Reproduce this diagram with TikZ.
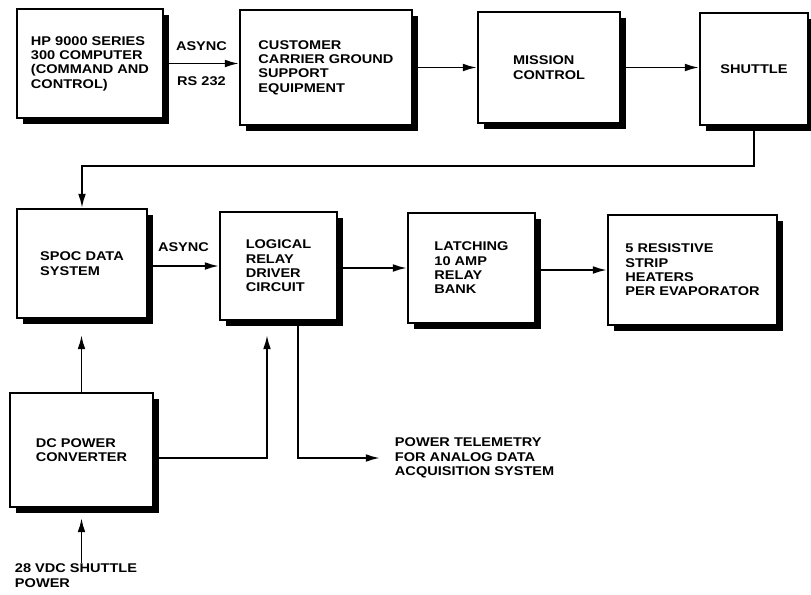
\documentclass[tikz,border=0pt]{standalone}
\usepackage{fontspec}
\setmainfont{Liberation Sans}[FakeStretch=1.15]
\usetikzlibrary{arrows.meta,shadows,calc}
\begin{document}
\begin{tikzpicture} [x=0.025cm,y=-0.025cm,line width=1.4pt,
  font=\fontsize{9}{10.2}\selectfont\bfseries,
  blk/.style 2 args={draw,fill=white,align=left,inner sep=0pt,
    minimum width=#1*0.025cm,minimum height=#2*0.025cm,
    drop shadow={shadow xshift=0.14cm,shadow yshift=-0.16cm,fill=black,opacity=1}},
  lbl/.style={align=left,inner sep=0pt},
  >={Latex[length=10pt,width=5.5pt]}]
\useasboundingbox (0,0) rectangle (811,594);
\node [blk={146}{109}] (a) at (90,63.5) {HP 9000 SERIES\\300 COMPUTER\\(COMMAND AND\\CONTROL)};
\node [blk={172}{115}] (b) at (326,67.5) {CUSTOMER\\CARRIER GROUND\\SUPPORT\\EQUIPMENT};
\node [blk={142}{111}] (c) at (549,67.5) {MISSION\\CONTROL};
\node [blk={108}{112}] (d) at (754,69) {SHUTTLE};
\node [blk={130}{109}] (e) at (82,263.5) {SPOC DATA\\SYSTEM};
\node [blk={117}{108}] (f) at (278.5,266) {LOGICAL\\RELAY\\DRIVER\\CIRCUIT};
\node [blk={127}{110}] (g) at (471.5,268) {LATCHING\\10 AMP\\RELAY\\BANK};
\node [blk={169}{110}] (h) at (692.5,270) {5 RESISTIVE\\STRIP\\HEATERS\\PER EVAPORATOR};
\node [blk={143}{114}] (i) at (81.5,450) {DC POWER\\CONVERTER};
\node [lbl,anchor=west,inner xsep=0.35cm] (t) at (380,458) {POWER TELEMETRY\\FOR ANALOG DATA\\ACQUISITION SYSTEM};
\node [lbl,anchor=north west] (v) at (14,563) {28 VDC SHUTTLE\\POWER};
\draw [->] (a.east) -- (a.east -| b.west) node [midway,above=5pt] {ASYNC} node [midway,below=5pt] {RS 232};
\draw [->] (b) -- (c);
\draw [->] (c.east) -- (c.east -| d.west);
\draw [->] (d.south) -- ++(0,40) -| (e.north);
\draw [->] (e.east |- f.west) -- (f.west) node [midway,above=6pt] {ASYNC};
\draw [->] (f.east |- g.west) -- (g.west);
\draw [->] (g.east |- h.west) -- (h.west);
\draw [->,shorten >=0.4cm] (i.north) -- (i.north |- e.south);
\draw [->,shorten >=0.35cm] ($(i.east)+(0,8)$) -| ($(f.south)+(-11.5,0)$);
\draw [->] ($(f.south)+(19.5,0)$) |- (t.west);
\draw [->,shorten >=0.25cm] (i.south |- v.north) -- (i.south);
\end{tikzpicture}
\end{document}
